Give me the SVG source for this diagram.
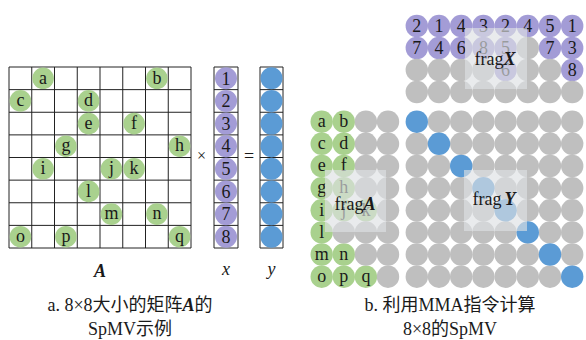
<svg xmlns="http://www.w3.org/2000/svg" width="586" height="340" viewBox="0 0 586 340" font-family="'Liberation Serif', 'DejaVu Serif', 'Noto Sans CJK SC', serif">
<style>
  text { font-family: "Liberation Serif", "DejaVu Serif", "Noto Sans CJK SC", serif; fill: #1a1a1a; }
  .t { font-size: 18px; text-anchor: middle; }
  .g { fill: #a9d18e; }
  .p { fill: #a39cd6; }
  .b { fill: #5b9bd5; }
  .n { fill: #bfbfbf; }
  .grid { fill: none; stroke: #222; stroke-width: 1; }
  .bi { font-weight: bold; font-style: italic; }
  .ov { fill: #dde0e3; fill-opacity: 0.65; }
  .cap { font-size: 18px; text-anchor: middle; }
</style>
<rect width="586" height="340" fill="#ffffff"/>

<!-- Matrix A -->
<g id="matrix-A">
  <path class="grid" d="M9 67H191V248H9Z M31.75 67V248 M54.5 67V248 M77.25 67V248 M100 67V248 M122.75 67V248 M145.5 67V248 M168.25 67V248 M9 89.625H191 M9 112.25H191 M9 134.875H191 M9 157.5H191 M9 180.125H191 M9 202.75H191 M9 225.375H191"/>
  <g class="g">
    <circle cx="43.1" cy="78.3" r="10.8"/><circle cx="156.9" cy="78.3" r="10.8"/>
    <circle cx="20.4" cy="100.9" r="10.8"/><circle cx="88.6" cy="100.9" r="10.8"/>
    <circle cx="88.6" cy="123.6" r="10.8"/><circle cx="134.1" cy="123.6" r="10.8"/>
    <circle cx="65.9" cy="146.2" r="10.8"/><circle cx="179.6" cy="146.2" r="10.8"/>
    <circle cx="43.1" cy="168.8" r="10.8"/><circle cx="111.4" cy="168.8" r="10.8"/><circle cx="134.1" cy="168.8" r="10.8"/>
    <circle cx="88.6" cy="191.4" r="10.8"/>
    <circle cx="111.4" cy="214.1" r="10.8"/><circle cx="156.9" cy="214.1" r="10.8"/>
    <circle cx="20.4" cy="236.7" r="10.8"/><circle cx="65.9" cy="236.7" r="10.8"/><circle cx="179.6" cy="236.7" r="10.8"/>
  </g>
  <text class="t" x="43.1" y="83.5">a</text><text class="t" x="156.9" y="83.5">b</text>
  <text class="t" x="20.4" y="106.1">c</text><text class="t" x="88.6" y="106.1">d</text>
  <text class="t" x="88.6" y="128.8">e</text><text class="t" x="134.1" y="128.8">f</text>
  <text class="t" x="65.9" y="151.4">g</text><text class="t" x="179.6" y="151.4">h</text>
  <text class="t" x="43.1" y="174">i</text><text class="t" x="111.4" y="174">j</text><text class="t" x="134.1" y="174">k</text>
  <text class="t" x="88.6" y="196.6">l</text>
  <text class="t" x="111.4" y="219.3">m</text><text class="t" x="156.9" y="219.3">n</text>
  <text class="t" x="20.4" y="241.9">o</text><text class="t" x="65.9" y="241.9">p</text><text class="t" x="179.6" y="241.9">q</text>
  <text class="t bi" x="100" y="277">A</text>
</g>

<text class="t" x="201.5" y="161" style="font-size:16px">×</text>
<text class="t" x="249" y="162">=</text>

<!-- Vector x -->
<g id="vector-x">
  <path class="grid" d="M214 67H238V248H214Z M214 89.625H238 M214 112.25H238 M214 134.875H238 M214 157.5H238 M214 180.125H238 M214 202.75H238 M214 225.375H238"/>
  <g class="p">
    <circle cx="226" cy="78.3" r="11"/><circle cx="226" cy="100.9" r="11"/><circle cx="226" cy="123.6" r="11"/><circle cx="226" cy="146.2" r="11"/>
    <circle cx="226" cy="168.8" r="11"/><circle cx="226" cy="191.4" r="11"/><circle cx="226" cy="214.1" r="11"/><circle cx="226" cy="236.7" r="11"/>
  </g>
  <text class="t" x="226" y="84.5">1</text><text class="t" x="226" y="107.1">2</text><text class="t" x="226" y="129.8">3</text><text class="t" x="226" y="152.4">4</text>
  <text class="t" x="226" y="175">5</text><text class="t" x="226" y="197.6">6</text><text class="t" x="226" y="220.3">7</text><text class="t" x="226" y="242.9">8</text>
  <text class="t" x="226" y="275" style="font-style:italic">x</text>
</g>

<!-- Vector y -->
<g id="vector-y">
  <path class="grid" d="M260 67H283V248H260Z M260 89.625H283 M260 112.25H283 M260 134.875H283 M260 157.5H283 M260 180.125H283 M260 202.75H283 M260 225.375H283"/>
  <g class="b">
    <circle cx="271.5" cy="78.3" r="11"/><circle cx="271.5" cy="100.9" r="11"/><circle cx="271.5" cy="123.6" r="11"/><circle cx="271.5" cy="146.2" r="11"/>
    <circle cx="271.5" cy="168.8" r="11"/><circle cx="271.5" cy="191.4" r="11"/><circle cx="271.5" cy="214.1" r="11"/><circle cx="271.5" cy="236.7" r="11"/>
  </g>
  <text class="t" x="271.5" y="275" style="font-style:italic">y</text>
</g>

<!-- fragX (top) -->
<g id="frag-X">
  <g class="p">
    <circle cx="416.8" cy="26" r="11.2"/><circle cx="439" cy="26" r="11.2"/><circle cx="461.2" cy="26" r="11.2"/><circle cx="483.4" cy="26" r="11.2"/>
    <circle cx="505.6" cy="26" r="11.2"/><circle cx="527.8" cy="26" r="11.2"/><circle cx="550" cy="26" r="11.2"/><circle cx="572.2" cy="26" r="11.2"/>
    <circle cx="416.8" cy="48" r="11.2"/><circle cx="439" cy="48" r="11.2"/><circle cx="461.2" cy="48" r="11.2"/><circle cx="483.4" cy="48" r="11.2"/>
    <circle cx="505.6" cy="48" r="11.2"/><circle cx="550" cy="48" r="11.2"/><circle cx="572.2" cy="48" r="11.2"/>
    <circle cx="505.6" cy="70" r="11.2"/><circle cx="572.2" cy="70" r="11.2"/>
  </g>
  <g class="n">
    <circle cx="527.8" cy="48" r="11.2"/>
    <circle cx="416.8" cy="70" r="11.2"/><circle cx="439" cy="70" r="11.2"/><circle cx="461.2" cy="70" r="11.2"/><circle cx="483.4" cy="70" r="11.2"/>
    <circle cx="527.8" cy="70" r="11.2"/><circle cx="550" cy="70" r="11.2"/>
    <circle cx="416.8" cy="92" r="11.2"/><circle cx="439" cy="92" r="11.2"/><circle cx="461.2" cy="92" r="11.2"/><circle cx="483.4" cy="92" r="11.2"/>
    <circle cx="505.6" cy="92" r="11.2"/><circle cx="527.8" cy="92" r="11.2"/><circle cx="550" cy="92" r="11.2"/><circle cx="572.2" cy="92" r="11.2"/>
  </g>
  <text class="t" x="416.8" y="32.2">2</text><text class="t" x="439" y="32.2">1</text><text class="t" x="461.2" y="32.2">4</text><text class="t" x="483.4" y="32.2">3</text>
  <text class="t" x="505.6" y="32.2">2</text><text class="t" x="527.8" y="32.2">4</text><text class="t" x="550" y="32.2">5</text><text class="t" x="572.2" y="32.2">1</text>
  <text class="t" x="416.8" y="54.2">7</text><text class="t" x="439" y="54.2">4</text><text class="t" x="461.2" y="54.2">6</text><text class="t" x="483.4" y="54.2">8</text>
  <text class="t" x="505.6" y="54.2">5</text><text class="t" x="550" y="54.2">7</text><text class="t" x="572.2" y="54.2">3</text>
  <text class="t" x="505.6" y="76.2">6</text><text class="t" x="572.2" y="76.2">8</text>
  <rect class="ov" x="465" y="28" width="62" height="61"/>
  <text class="t" x="495" y="65">frag<tspan class="bi">X</tspan></text>
</g>

<!-- fragA (bottom left) -->
<g id="frag-A">
  <g class="g">
    <circle cx="321.7" cy="121.7" r="11.2"/><circle cx="343.8" cy="121.7" r="11.2"/>
    <circle cx="321.7" cy="143.8" r="11.2"/><circle cx="343.8" cy="143.8" r="11.2"/>
    <circle cx="321.7" cy="166" r="11.2"/><circle cx="343.8" cy="166" r="11.2"/>
    <circle cx="321.7" cy="188.1" r="11.2"/><circle cx="343.8" cy="188.1" r="11.2"/>
    <circle cx="321.7" cy="210.3" r="11.2"/><circle cx="343.8" cy="210.3" r="11.2"/><circle cx="365.9" cy="210.3" r="11.2"/>
    <circle cx="321.7" cy="232.4" r="11.2"/>
    <circle cx="321.7" cy="254.5" r="11.2"/><circle cx="343.8" cy="254.5" r="11.2"/>
    <circle cx="321.7" cy="276.7" r="11.2"/><circle cx="343.8" cy="276.7" r="11.2"/><circle cx="365.9" cy="276.7" r="11.2"/>
  </g>
  <g class="n">
    <circle cx="365.9" cy="121.7" r="11.2"/><circle cx="388" cy="121.7" r="11.2"/>
    <circle cx="365.9" cy="143.8" r="11.2"/><circle cx="388" cy="143.8" r="11.2"/>
    <circle cx="365.9" cy="166" r="11.2"/><circle cx="388" cy="166" r="11.2"/>
    <circle cx="365.9" cy="188.1" r="11.2"/><circle cx="388" cy="188.1" r="11.2"/>
    <circle cx="388" cy="210.3" r="11.2"/>
    <circle cx="343.8" cy="232.4" r="11.2"/><circle cx="365.9" cy="232.4" r="11.2"/><circle cx="388" cy="232.4" r="11.2"/>
    <circle cx="365.9" cy="254.5" r="11.2"/><circle cx="388" cy="254.5" r="11.2"/>
    <circle cx="388" cy="276.7" r="11.2"/>
  </g>
  <text class="t" x="321.7" y="127">a</text><text class="t" x="343.8" y="127">b</text>
  <text class="t" x="321.7" y="149.1">c</text><text class="t" x="343.8" y="149.1">d</text>
  <text class="t" x="321.7" y="171.3">e</text><text class="t" x="343.8" y="171.3">f</text>
  <text class="t" x="321.7" y="193.4">g</text><text class="t" x="343.8" y="193.4">h</text>
  <text class="t" x="321.7" y="215.6">i</text><text class="t" x="343.8" y="215.6">j</text><text class="t" x="365.9" y="215.6">k</text>
  <text class="t" x="321.7" y="237.7">l</text>
  <text class="t" x="321.7" y="259.8">m</text><text class="t" x="343.8" y="259.8">n</text>
  <text class="t" x="321.7" y="282">o</text><text class="t" x="343.8" y="282">p</text><text class="t" x="365.9" y="282">q</text>
  <rect class="ov" x="325" y="170" width="61" height="62"/>
  <text class="t" x="355" y="210">frag<tspan class="bi">A</tspan></text>
</g>

<!-- fragY (bottom right) -->
<g id="frag-Y">
  <g class="n">
    <circle cx="439" cy="121.7" r="11.2"/><circle cx="461.2" cy="121.7" r="11.2"/><circle cx="483.4" cy="121.7" r="11.2"/><circle cx="505.6" cy="121.7" r="11.2"/><circle cx="527.8" cy="121.7" r="11.2"/><circle cx="550" cy="121.7" r="11.2"/><circle cx="572.2" cy="121.7" r="11.2"/>
    <circle cx="416.8" cy="143.8" r="11.2"/><circle cx="461.2" cy="143.8" r="11.2"/><circle cx="483.4" cy="143.8" r="11.2"/><circle cx="505.6" cy="143.8" r="11.2"/><circle cx="527.8" cy="143.8" r="11.2"/><circle cx="550" cy="143.8" r="11.2"/><circle cx="572.2" cy="143.8" r="11.2"/>
    <circle cx="416.8" cy="166" r="11.2"/><circle cx="439" cy="166" r="11.2"/><circle cx="483.4" cy="166" r="11.2"/><circle cx="505.6" cy="166" r="11.2"/><circle cx="527.8" cy="166" r="11.2"/><circle cx="550" cy="166" r="11.2"/><circle cx="572.2" cy="166" r="11.2"/>
    <circle cx="416.8" cy="188.1" r="11.2"/><circle cx="439" cy="188.1" r="11.2"/><circle cx="461.2" cy="188.1" r="11.2"/><circle cx="505.6" cy="188.1" r="11.2"/><circle cx="527.8" cy="188.1" r="11.2"/><circle cx="550" cy="188.1" r="11.2"/><circle cx="572.2" cy="188.1" r="11.2"/>
    <circle cx="416.8" cy="210.3" r="11.2"/><circle cx="439" cy="210.3" r="11.2"/><circle cx="461.2" cy="210.3" r="11.2"/><circle cx="483.4" cy="210.3" r="11.2"/><circle cx="527.8" cy="210.3" r="11.2"/><circle cx="550" cy="210.3" r="11.2"/><circle cx="572.2" cy="210.3" r="11.2"/>
    <circle cx="416.8" cy="232.4" r="11.2"/><circle cx="439" cy="232.4" r="11.2"/><circle cx="461.2" cy="232.4" r="11.2"/><circle cx="483.4" cy="232.4" r="11.2"/><circle cx="505.6" cy="232.4" r="11.2"/><circle cx="550" cy="232.4" r="11.2"/><circle cx="572.2" cy="232.4" r="11.2"/>
    <circle cx="416.8" cy="254.5" r="11.2"/><circle cx="439" cy="254.5" r="11.2"/><circle cx="461.2" cy="254.5" r="11.2"/><circle cx="483.4" cy="254.5" r="11.2"/><circle cx="505.6" cy="254.5" r="11.2"/><circle cx="527.8" cy="254.5" r="11.2"/><circle cx="572.2" cy="254.5" r="11.2"/>
    <circle cx="416.8" cy="276.7" r="11.2"/><circle cx="439" cy="276.7" r="11.2"/><circle cx="461.2" cy="276.7" r="11.2"/><circle cx="483.4" cy="276.7" r="11.2"/><circle cx="505.6" cy="276.7" r="11.2"/><circle cx="527.8" cy="276.7" r="11.2"/><circle cx="550" cy="276.7" r="11.2"/>
  </g>
  <g class="b">
    <circle cx="416.8" cy="121.7" r="11.2"/><circle cx="439" cy="143.8" r="11.2"/><circle cx="461.2" cy="166" r="11.2"/><circle cx="483.4" cy="188.1" r="11.2"/>
    <circle cx="505.6" cy="210.3" r="11.2"/><circle cx="527.8" cy="232.4" r="11.2"/><circle cx="550" cy="254.5" r="11.2"/><circle cx="572.2" cy="276.7" r="11.2"/>
  </g>
  <rect class="ov" x="464" y="170" width="63" height="61"/>
  <text class="t" x="494" y="205">frag<tspan class="bi" dx="3">Y</tspan></text>
</g>

<!-- Captions -->
<g id="caption-a">
  <text class="cap" x="130" y="311">a. 8×8大小的矩阵<tspan class="bi">A</tspan>的</text>
  <text class="cap" x="130" y="335">SpMV示例</text>
</g>
<g id="caption-b">
  <text class="cap" x="450" y="311">b. 利用MMA指令计算</text>
  <text class="cap" x="450" y="335">8×8的SpMV</text>
</g>
</svg>
